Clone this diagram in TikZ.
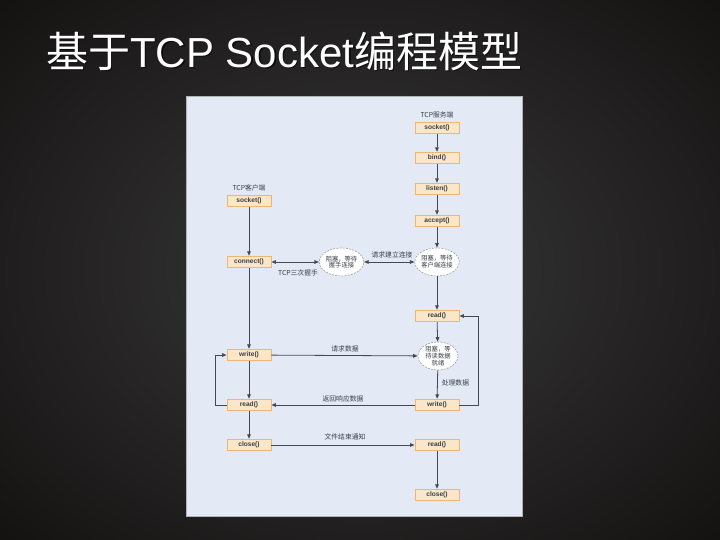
\documentclass[tikz,border=0pt]{standalone}
\usepackage{fontspec}
\setmainfont{Noto Sans CJK SC}
\newfontfamily\latin{Liberation Sans}
\usetikzlibrary{shapes.geometric,arrows.meta}
\definecolor{bgdark}{HTML}{141111}
\definecolor{bglight}{HTML}{3A3A3A}
\definecolor{panel}{HTML}{E3EAF5}
\definecolor{boxfill}{HTML}{FCE6C8}
\definecolor{boxborder}{HTML}{EDB673}
\definecolor{linegray}{HTML}{454A52}
\definecolor{textgray}{HTML}{3A3F47}
\newcommand{\ttl}{基于{\latin TCP Socket}编程模型}
\begin{document}
\begin{tikzpicture}[x=1pt,y=-1pt,
  fn/.style={draw=boxborder, fill=boxfill, line width=0.9pt, minimum width=44pt, minimum height=11.5pt, inner sep=0pt, text height=4.4pt, text depth=0.8pt, text=textgray, font=\latin\bfseries\fontsize{6.6}{7}\selectfont},
  wait/.style={ellipse, draw=gray!75, dash pattern=on 2pt off 1.2pt, line width=0.6pt, fill=white, minimum width=43pt, minimum height=28pt, inner sep=0pt, align=center, text=textgray, font=\fontsize{6.3}{6.8}\selectfont},
  arr/.style={-{Triangle[length=4.5pt,width=3.6pt]}, draw=linegray, line width=0.8pt},
  darr/.style={{Triangle[length=4.5pt,width=3.6pt]}-{Triangle[length=4.5pt,width=3.6pt]}, draw=linegray, line width=0.8pt},
  lbl/.style={text=textgray, font=\fontsize{6.8}{7}\selectfont, inner sep=0pt},
  ttlstyle/.style={anchor=west, font=\fontsize{42}{44}\selectfont, inner sep=0pt}]
\useasboundingbox (0,0) rectangle (720,540);
\fill[bgdark] (0,0) rectangle (720,540);
\shade[inner color=bglight, outer color=bgdark] (-150,-120) rectangle (870,660);
% title
\node[ttlstyle, text=black, opacity=0.55] (tshadow) at (47.5,52.5) {\ttl};
\node[ttlstyle, text=white] (title) at (46,51) {\ttl};
% panel
\node[draw=gray!60, line width=0.5pt, fill=panel, minimum width=336pt, minimum height=420pt, inner sep=0pt, anchor=north west] (panel) at (186,96) {};
% labels
\node[lbl] (srvlbl) at (437,114.5) {TCP服务端};
\node[lbl] (clilbl) at (249,187.5) {TCP客户端};
% server column
\node[fn] (ssock) at (437,128) {socket()};
\node[fn] (sbind) at (437,158) {bind()};
\node[fn] (slisten) at (437,189) {listen()};
\node[fn] (saccept) at (437,221) {accept()};
\node[wait] (swait) at (437,262) {阻塞，等待\\客户端连接};
\node[fn] (sread) at (437,316) {read()};
\node[wait, minimum width=40pt] (sdata) at (438,356) {阻塞，等\\待读数据\\就绪};
\node[fn] (swrite) at (437,405) {write()};
\node[fn] (sread2) at (437,445) {read()};
\node[fn] (sclose) at (437,495) {close()};
% client column
\node[fn] (csock) at (249,201) {socket()};
\node[fn] (cconn) at (249,262) {connect()};
\node[wait] (cwait) at (341.5,262) {阻塞，等待\\握手连接};
\node[fn] (cwrite) at (249,355) {write()};
\node[fn] (cread) at (249,405) {read()};
\node[fn] (cclose) at (249,445) {close()};
% server arrows
\draw[arr] (ssock) -- (sbind);
\draw[arr] (sbind) -- (slisten);
\draw[arr] (slisten) -- (saccept);
\draw[arr] (saccept) -- (swait);
\draw[arr] (swait) -- (sread);
\draw[arr] (sread) -- (sdata);
\draw[arr] (sdata) -- node[lbl, right=4pt, pos=0.45] (l4) {处理数据} (swrite);
\draw[arr] (sread2) -- (sclose);
\coordinate (rl) at (478,405);
\coordinate (rt) at (478,316);
\draw[arr] (swrite.east) -- (rl) -- (rt) -- (sread.east);
% client arrows
\draw[arr] (csock) -- (cconn);
\draw[arr] (cconn) -- (cwrite);
\draw[arr] (cwrite) -- (cread);
\draw[arr] (cread) -- (cclose);
\coordinate (ll) at (215,405);
\coordinate (lt) at (215,355);
\draw[arr] (cread.west) -- (ll) -- (lt) -- (cwrite.west);
% cross arrows
\draw[darr] (cconn) -- (cwait);
\draw[darr] (cwait) -- (swait);
\draw[arr] (cwrite) -- (sdata);
\draw[arr] (swrite) -- (cread);
\draw[arr] (cclose) -- (sread2);
% connector labels
\node[lbl] (l1) at (392,255) {请求建立连接};
\node[lbl] (l2) at (298,273) {TCP三次握手};
\node[lbl] (l3) at (345,349) {请求数据};
\node[lbl] (l5) at (343,399) {返回响应数据};
\node[lbl] (l6) at (345,437) {文件结束通知};
\end{tikzpicture}
\end{document}
